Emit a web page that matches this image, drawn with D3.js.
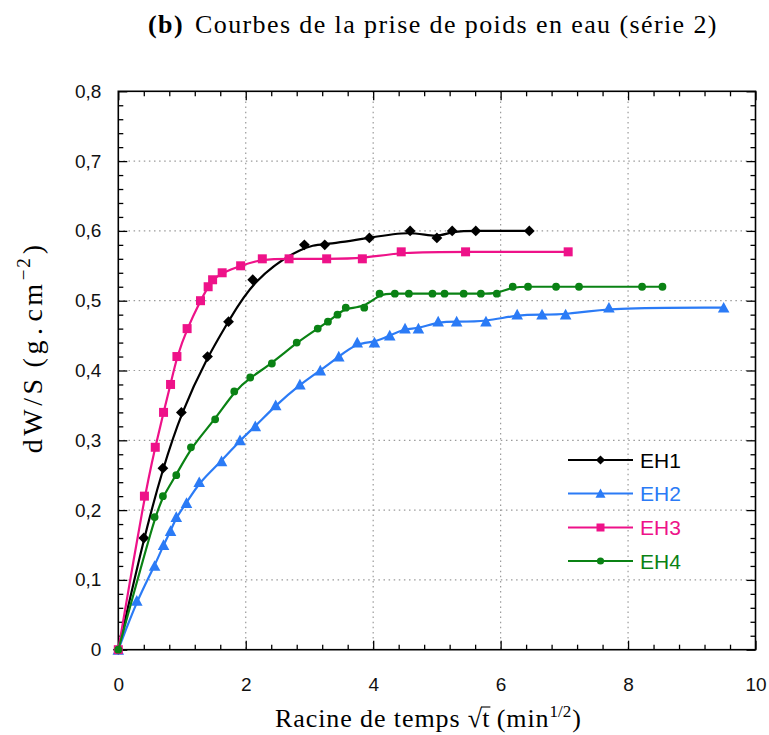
<!DOCTYPE html>
<html>
<head>
<meta charset="utf-8">
<script src="https://cdn.jsdelivr.net/npm/d3@7"></script>
<style>
  html, body { margin: 0; padding: 0; background: #fff; }
  svg { display: block; }
  text { white-space: pre; }
</style>
</head>
<body>
<svg id="chart" width="769" height="735"></svg>
<script>
// Water uptake curves, series 2: dW/S versus square root of time
const seriesNames = ["EH1", "EH2", "EH3", "EH4"];
const seriesColors = ["#000000", "#2b7bf6", "#ee1289", "#0a8214"];
const seriesSymbols = ["diamond", "triangle", "square", "circle"];

const eh1X = [0, 0.40, 0.70, 0.99, 1.40, 1.73, 2.11, 2.92, 3.24, 3.94, 4.58, 5.00, 5.24, 5.61, 6.45];
const eh1Y = [0, 0.16, 0.26, 0.34, 0.42, 0.47, 0.53, 0.58, 0.58, 0.59, 0.60, 0.59, 0.60, 0.60, 0.60];

const eh2X = [0, 0.29, 0.57, 0.71, 0.82, 0.91, 1.07, 1.27, 1.62, 1.91, 2.15, 2.47, 2.85, 3.17, 3.46, 3.75, 4.02, 4.26, 4.50, 4.71, 5.02, 5.31, 5.77, 6.26, 6.65, 7.02, 7.70, 9.50];
const eh2Y = [0, 0.07, 0.12, 0.15, 0.17, 0.19, 0.21, 0.24, 0.27, 0.30, 0.32, 0.35, 0.38, 0.40, 0.42, 0.44, 0.44, 0.45, 0.46, 0.46, 0.47, 0.47, 0.47, 0.48, 0.48, 0.48, 0.49, 0.49];

const eh3X = [0, 0.41, 0.58, 0.71, 0.82, 0.92, 1.08, 1.29, 1.41, 1.48, 1.63, 1.92, 2.26, 2.68, 3.27, 3.83, 4.44, 5.45, 7.06];
const eh3Y = [0, 0.22, 0.29, 0.34, 0.38, 0.42, 0.46, 0.50, 0.52, 0.53, 0.54, 0.55, 0.56, 0.56, 0.56, 0.56, 0.57, 0.57, 0.57];

const eh4X = [0, 0.57, 0.70, 0.91, 1.14, 1.52, 1.82, 2.07, 2.41, 2.80, 3.13, 3.29, 3.44, 3.57, 3.86, 4.10, 4.34, 4.56, 4.93, 5.12, 5.42, 5.69, 5.94, 6.19, 6.43, 6.87, 7.23, 8.22, 8.54];
const eh4Y = [0, 0.19, 0.22, 0.25, 0.29, 0.33, 0.37, 0.39, 0.41, 0.44, 0.46, 0.47, 0.48, 0.49, 0.49, 0.51, 0.51, 0.51, 0.51, 0.51, 0.51, 0.51, 0.51, 0.52, 0.52, 0.52, 0.52, 0.52, 0.52];

const xMajorTicks = [0, 2, 4, 6, 8, 10];
const yMajorTicks = [0, 0.1, 0.2, 0.3, 0.4, 0.5, 0.6, 0.7, 0.8];

const seriesX = [eh1X, eh2X, eh3X, eh4X];
const seriesY = [eh1Y, eh2Y, eh3Y, eh4Y];

const svg = d3.select("#chart");
const plot = { left: 118.3, right: 755.5, top: 91.3, bottom: 649.7 };

const x = d3.scaleLinear().domain([0, 10]).range([plot.left, plot.right]);
const y = d3.scaleLinear().domain([0, 0.8]).range([plot.bottom, plot.top]);

const SANS = "'Liberation Sans', Arial, sans-serif";
const SERIF = "'Liberation Serif', 'Times New Roman', serif";

// dotted grid at the major ticks
const grid = svg.append("g").attr("stroke", "#9a9a9a").attr("stroke-width", 1.2)
  .attr("stroke-dasharray", "1.5,3.6");
grid.selectAll("line.gx").data(xMajorTicks.slice(1, -1)).join("line")
  .attr("x1", d => x(d)).attr("x2", d => x(d)).attr("y1", plot.top).attr("y2", plot.bottom);
grid.selectAll("line.gy").data(yMajorTicks.slice(1, -1)).join("line")
  .attr("y1", d => y(d)).attr("y2", d => y(d)).attr("x1", plot.left).attr("x2", plot.right);

// axes with inward ticks on all four sides
const xMinor = d3.range(0, 10.001, 0.4).filter(v => Math.abs(v / 2 - Math.round(v / 2)) > 1e-6);
const yMinor = d3.range(0, 0.8001, 0.02).filter(v => Math.abs(v * 10 - Math.round(v * 10)) > 1e-6);
const yFmt = d => d === 0 ? "0" : d3.format(".1f")(d).replace(".", ",");

function styleAxis(g) {
  g.select(".domain").remove();
  g.selectAll(".tick line").attr("stroke", "#000").attr("stroke-width", 1.3);
  g.selectAll(".tick text").attr("font-family", SANS).attr("font-size", 19).attr("fill", "#111");
}

svg.append("g").attr("transform", `translate(0,${plot.bottom})`)
  .call(d3.axisBottom(x).tickValues(xMajorTicks).tickSizeInner(-9).tickSizeOuter(0).tickPadding(28).tickFormat(d3.format("d")))
  .call(styleAxis);
svg.append("g").attr("transform", `translate(0,${plot.bottom})`)
  .call(d3.axisBottom(x).tickValues(xMinor).tickSizeInner(-5).tickSizeOuter(0).tickFormat(""))
  .call(styleAxis);
svg.append("g").attr("transform", `translate(0,${plot.top})`)
  .call(d3.axisTop(x).tickValues(xMajorTicks).tickSizeInner(-9).tickSizeOuter(0).tickFormat(""))
  .call(styleAxis);
svg.append("g").attr("transform", `translate(0,${plot.top})`)
  .call(d3.axisTop(x).tickValues(xMinor).tickSizeInner(-5).tickSizeOuter(0).tickFormat(""))
  .call(styleAxis);
svg.append("g").attr("transform", `translate(${plot.left},0)`)
  .call(d3.axisLeft(y).tickValues(yMajorTicks).tickSizeInner(-9).tickSizeOuter(0).tickPadding(17).tickFormat(yFmt))
  .call(styleAxis);
svg.append("g").attr("transform", `translate(${plot.left},0)`)
  .call(d3.axisLeft(y).tickValues(yMinor).tickSizeInner(-5).tickSizeOuter(0).tickFormat(""))
  .call(styleAxis);
svg.append("g").attr("transform", `translate(${plot.right},0)`)
  .call(d3.axisRight(y).tickValues(yMajorTicks).tickSizeInner(-9).tickSizeOuter(0).tickFormat(""))
  .call(styleAxis);
svg.append("g").attr("transform", `translate(${plot.right},0)`)
  .call(d3.axisRight(y).tickValues(yMinor).tickSizeInner(-5).tickSizeOuter(0).tickFormat(""))
  .call(styleAxis);

svg.append("rect")
  .attr("x", plot.left).attr("y", plot.top)
  .attr("width", plot.right - plot.left).attr("height", plot.bottom - plot.top)
  .attr("fill", "none").attr("stroke", "#000").attr("stroke-width", 1.6);

// marker shapes
function markerPath(kind, s) {
  if (kind === "diamond") return `M0,${-s}L${s},0L0,${s}L${-s},0Z`;
  if (kind === "square") return `M${-s},${-s}H${s}V${s}H${-s}Z`;
  if (kind === "triangle") return `M0,${-s}L${s * 1.0},${s * 0.85}L${-s * 1.0},${s * 0.85}Z`;
  return d3.symbol(d3.symbolCircle, Math.PI * s * s)();
}
const markerSize = { diamond: 5.4, square: 4.5, triangle: 5.8, circle: 3.9 };
const legendMarkerSize = { diamond: 4.6, square: 4.0, triangle: 5.0, circle: 3.6 };

// smoothed trend through the measurements
const line = d3.line().x(d => x(d[0])).y(d => y(d[1])).curve(d3.curveBasis);

seriesNames.forEach((name, i) => {
  const pts = seriesX[i].map((v, j) => [v, seriesY[i][j]]);
  const g = svg.append("g");
  g.append("path").datum(pts).attr("d", line)
    .attr("fill", "none").attr("stroke", seriesColors[i]).attr("stroke-width", 2.2);
  const kind = seriesSymbols[i];
  g.selectAll("path.m").data(pts).join("path")
    .attr("transform", d => `translate(${x(d[0])},${y(d[1])})`)
    .attr("d", markerPath(kind, markerSize[kind]))
    .attr("fill", seriesColors[i]);
});

// legend
const legendRows = [460, 493.5, 527.5, 561];
seriesNames.forEach((name, i) => {
  const g = svg.append("g").attr("transform", `translate(0,${legendRows[i]})`);
  g.append("line").attr("x1", 568).attr("x2", 633).attr("y1", 0).attr("y2", 0)
    .attr("stroke", seriesColors[i]).attr("stroke-width", 2);
  const kind = seriesSymbols[i];
  g.append("path").attr("transform", "translate(600.5,0)")
    .attr("d", markerPath(kind, legendMarkerSize[kind])).attr("fill", seriesColors[i]);
  g.append("text").attr("x", 640).attr("y", 7.6)
    .attr("font-family", SANS).attr("font-size", 21).attr("fill", seriesColors[i]).text(name);
});

// text laid out as consecutive runs
function layoutRuns(g, parts) {
  let cx = 0;
  parts.forEach(p => {
    const t = g.append("text")
      .attr("x", cx + (p.dx || 0)).attr("y", p.shift || 0)
      .attr("font-family", SERIF).attr("font-size", p.size)
      .attr("font-weight", p.weight || "normal").attr("fill", "#000")
      .attr("letter-spacing", p.ls || 0)
      .text(p.text);
    p.x0 = cx + (p.dx || 0);
    cx = p.x0 + t.node().getComputedTextLength();
    p.x1 = cx;
  });
  return cx;
}

// title
{
  const g = svg.append("g");
  layoutRuns(g, [
    { text: "(b)", size: 26, weight: "bold", ls: 1.4 },
    { text: "Courbes de la prise de poids en eau (série 2)", size: 26, dx: 11, ls: 1.4 }
  ]);
  g.attr("transform", "translate(148,33)");
}

// x axis title with square-root bar over t
{
  const g = svg.append("g");
  const parts = [
    { text: "Racine de temps ", size: 26, ls: 0.9 },
    { text: "√", size: 26 },
    { text: "t", size: 26 },
    { text: " (min", size: 26, ls: 0.9 },
    { text: "1/2", size: 17, shift: -10 },
    { text: ")", size: 26, dx: 1 }
  ];
  const w = layoutRuns(g, parts);
  g.append("line").attr("x1", parts[1].x1 - 1).attr("x2", parts[2].x1 + 1)
    .attr("y1", -20).attr("y2", -20).attr("stroke", "#000").attr("stroke-width", 1.1);
  g.attr("transform", `translate(${428 - w / 2},727)`);
}

// y axis title
{
  const g = svg.append("g");
  const w = layoutRuns(g, [
    { text: "dW/S", size: 28, ls: 3.5 },
    { text: "(g", size: 28, dx: 8, ls: 3.5 },
    { text: ".", size: 28, dx: 2, ls: 3.5 },
    { text: "cm", size: 28, dx: 3, ls: 3.5 },
    { text: "−2", size: 19, shift: -12, dx: 0, ls: 2 },
    { text: ")", size: 28, dx: 2 }
  ]);
  g.attr("transform", `translate(42,${349 + w / 2}) rotate(-90)`);
}
</script>
</body>
</html>
